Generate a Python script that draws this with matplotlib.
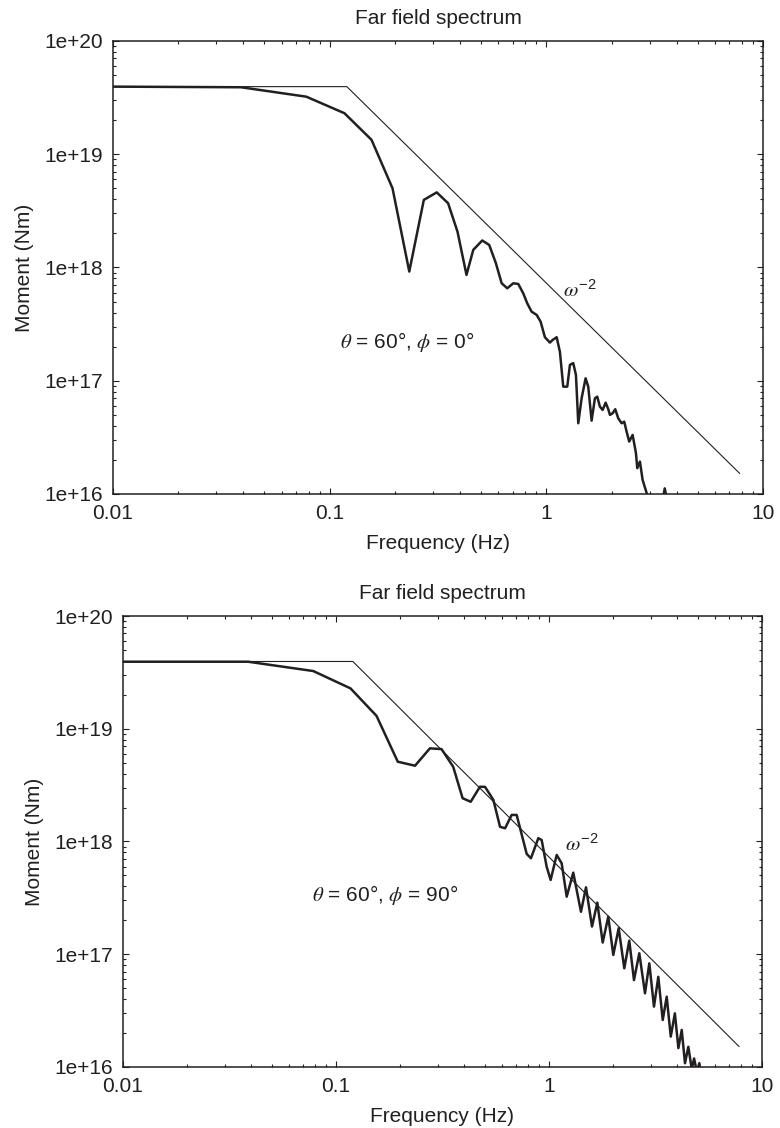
import matplotlib
matplotlib.use('Agg')
import matplotlib.pyplot as plt
from matplotlib.ticker import FixedLocator, FixedFormatter, LogLocator, NullFormatter

plt.rcParams['font.family'] = ['Liberation Sans', 'DejaVu Sans']
plt.rcParams['mathtext.fontset'] = 'custom'
plt.rcParams['mathtext.rm'] = 'Liberation Sans'
plt.rcParams['mathtext.it'] = 'STIXGeneral:italic'

ink = '#231f20'

# omega^-2 reference (same in both panels)
ref_freq = [0.01, 0.12, 7.8]
ref_moment = [3.95e19, 3.95e19, 1.52e16]

# theta = 60, phi = 0
freq_phi0 = [0.01, 0.039, 0.078, 0.117, 0.156, 0.195, 0.233, 0.272, 0.312, 0.352,
             0.389, 0.428, 0.46, 0.506, 0.545, 0.585, 0.622, 0.660, 0.704, 0.742,
             0.782, 0.816, 0.855, 0.902, 0.941, 0.985, 1.039, 1.069, 1.116, 1.155,
             1.197, 1.249, 1.285, 1.331, 1.370, 1.404, 1.455, 1.518, 1.561, 1.618,
             1.676, 1.718, 1.767, 1.819, 1.878, 1.931, 1.966, 2.023, 2.080, 2.147,
             2.226, 2.288, 2.347, 2.413, 2.502, 2.592, 2.628, 2.704, 2.782, 2.860,
             2.922, 3.2, 3.45, 3.52, 3.6, 4.1]
moment_phi0 = [3.95e19, 3.9e19, 3.22e19, 2.30e19, 1.34e19, 5.0e18, 9.2e17, 3.95e18, 4.6e18, 3.69e18,
               2.07e18, 8.6e17, 1.43e18, 1.73e18, 1.58e18, 1.09e18, 7.25e17, 6.55e17, 7.25e17, 7.15e17,
               5.92e17, 4.83e17, 4.07e17, 3.81e17, 3.32e17, 2.42e17, 2.17e17, 2.29e17, 2.42e17, 1.80e17,
               8.86e16, 8.86e16, 1.38e17, 1.43e17, 1.12e17, 4.21e16, 7.0e16, 1.05e17, 8.86e16, 4.44e16,
               7.0e16, 7.23e16, 5.9e16, 5.52e16, 6.4e16, 5.6e16, 4.99e16, 5.16e16, 5.6e16, 4.66e16,
               4.21e16, 4.35e16, 3.55e16, 2.9e16, 3.32e16, 2.29e16, 1.69e16, 1.93e16, 1.33e16, 1.12e16,
               9.8e15, 6e15, 9e15, 1.12e16, 9e15, 7e15]

# theta = 60, phi = 90
freq_phi90 = [0.01, 0.0387, 0.0782, 0.117, 0.155, 0.195, 0.235, 0.276, 0.313, 0.355,
              0.393, 0.429, 0.474, 0.501, 0.548, 0.589, 0.622, 0.668, 0.705, 0.786,
              0.823, 0.891, 0.924, 0.975, 1.018, 1.087, 1.147, 1.211, 1.30, 1.413,
              1.492, 1.592, 1.686, 1.787, 1.898, 2.004, 2.124, 2.257, 2.382, 2.506,
              2.655, 2.823, 2.958, 3.111, 3.26, 3.42, 3.57, 3.73, 3.90, 4.05,
              4.20, 4.35, 4.51, 4.68, 4.80, 4.95, 5.08, 5.2]
moment_phi90 = [3.93e19, 3.93e19, 3.25e19, 2.28e19, 1.30e19, 5.1e18, 4.7e18, 6.7e18, 6.6e18, 4.6e18,
                2.42e18, 2.25e18, 3.06e18, 3.05e18, 2.34e18, 1.35e18, 1.31e18, 1.72e18, 1.72e18, 7.75e17,
                7.1e17, 1.07e18, 1.03e18, 5.98e17, 4.56e17, 7.6e17, 6.4e17, 3.24e17, 5.29e17, 2.38e17,
                3.92e17, 1.76e17, 2.87e17, 1.27e17, 2.15e17, 9.85e16, 1.70e17, 7.5e16, 1.32e17, 5.9e16,
                1.02e17, 4.5e16, 8.3e16, 3.43e16, 6.3e16, 2.61e16, 4.2e16, 1.86e16, 2.99e16, 1.47e16,
                2.13e16, 1.08e16, 1.51e16, 9.6e15, 1.19e16, 9e15, 1.08e16, 8e15]

x_ticks = [0.01, 0.1, 1, 10]
x_labels = ['0.01', '0.1', '1', '10']
y_ticks = [1e16, 1e17, 1e18, 1e19, 1e20]
y_labels = ['1e+16', '1e+17', '1e+18', '1e+19', '1e+20']

fig = plt.figure(figsize=(7.8, 11.28), dpi=100)
ax1 = fig.add_axes([0.1449, 0.5621, 0.8333, 0.4016])
ax2 = fig.add_axes([0.1577, 0.0541, 0.8192, 0.3998])


def style_axes(ax):
    ax.set_xscale('log')
    ax.set_yscale('log')
    ax.set_xlim(0.01, 10)
    ax.set_ylim(1e16, 1e20)
    ax.xaxis.set_major_locator(FixedLocator(x_ticks))
    ax.xaxis.set_major_formatter(FixedFormatter(x_labels))
    ax.yaxis.set_major_locator(FixedLocator(y_ticks))
    ax.yaxis.set_major_formatter(FixedFormatter(y_labels))
    ax.xaxis.set_minor_locator(LogLocator(base=10, subs=range(2, 10), numticks=20))
    ax.yaxis.set_minor_locator(LogLocator(base=10, subs=range(2, 10), numticks=20))
    ax.xaxis.set_minor_formatter(NullFormatter())
    ax.yaxis.set_minor_formatter(NullFormatter())
    ax.tick_params(which='both', direction='in', top=True, right=True,
                   width=0.8, color=ink, labelcolor=ink, labelsize=15)
    ax.tick_params(which='major', length=4.5, pad=7)
    ax.tick_params(which='minor', length=2.5)
    for sp in ax.spines.values():
        sp.set_linewidth(1.1)
        sp.set_color(ink)
    ax.set_title('Far field spectrum', fontsize=15, color=ink, pad=12)
    ax.set_xlabel('Frequency (Hz)', fontsize=15, color=ink, labelpad=8)
    ax.set_ylabel('Moment (Nm)', fontsize=15, color=ink, labelpad=8)


style_axes(ax1)
ax1.plot(ref_freq, ref_moment, color=ink, linewidth=0.8)
ax1.plot(freq_phi0, moment_phi0, color=ink, linewidth=1.8)
ax1.text(0.1116, 2.2e17, r'$\theta$ = 60°, $\phi$ = 0°', fontsize=15, color=ink,
         ha='left', va='center')
ax1.text(1.2, 6.3e17, r'$\omega^{-2}$', fontsize=15, color=ink, ha='left', va='center')

style_axes(ax2)
ax2.plot(ref_freq, ref_moment, color=ink, linewidth=0.8)
ax2.plot(freq_phi90, moment_phi90, color=ink, linewidth=1.8)
ax2.text(0.0772, 3.35e17, r'$\theta$ = 60°, $\phi$ = 90°', fontsize=15, color=ink,
         ha='left', va='center')
ax2.text(1.19, 9.5e17, r'$\omega^{-2}$', fontsize=15, color=ink, ha='left', va='center')

fig.savefig('out.png', dpi=100)
